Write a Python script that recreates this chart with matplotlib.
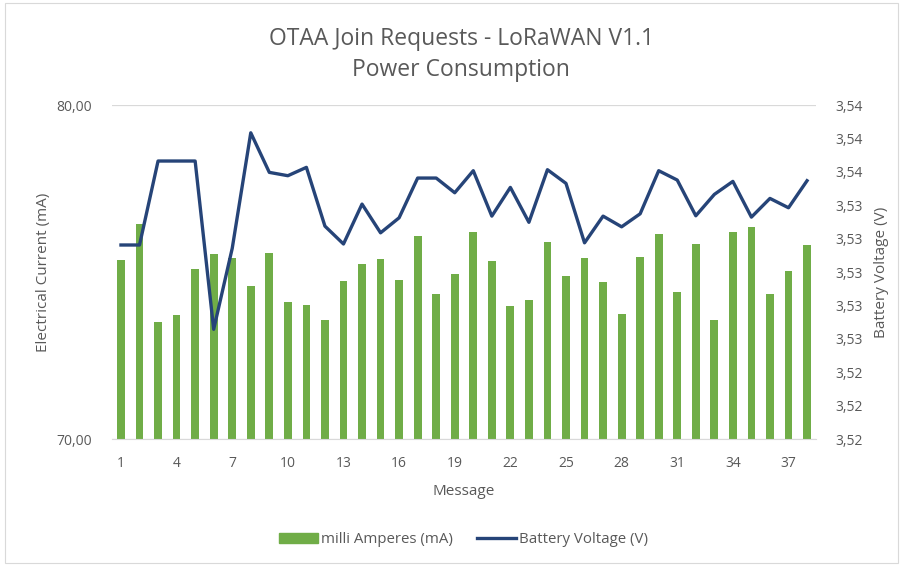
import numpy as np
import matplotlib.pyplot as plt
from matplotlib.patches import Rectangle
from matplotlib.lines import Line2D

plt.rcParams['font.family'] = ['Open Sans', 'DejaVu Sans']

messages = list(range(1, 39))
current_ma = [75.36, 76.43, 73.49, 73.70, 75.08, 75.54, 75.42, 74.57, 75.56, 74.10,
              74.00, 73.55, 74.72, 75.23, 75.39, 74.76, 76.09, 74.33, 74.95, 76.20,
              75.32, 73.98, 74.15, 75.90, 74.87, 75.41, 74.70, 73.75, 75.46, 76.14,
              74.40, 75.85, 73.55, 76.19, 76.36, 74.34, 75.04, 75.82]
voltage_v = [3.53062, 3.53062, 3.53565, 3.53565, 3.53565, 3.52557, 3.53042, 3.53734,
             3.53497, 3.53477, 3.53527, 3.53175, 3.53068, 3.53307, 3.53135, 3.53225,
             3.53463, 3.53463, 3.53375, 3.53507, 3.53235, 3.53407, 3.53198, 3.53513,
             3.53431, 3.53075, 3.53235, 3.53171, 3.53249, 3.53507, 3.53451, 3.53237,
             3.53365, 3.53443, 3.53229, 3.53341, 3.53285, 3.53447]

left_ticks = [70, 80]
left_labels = ["70,00", "80,00"]
right_ticks = [3.519, 3.521, 3.523, 3.525, 3.527, 3.529, 3.531, 3.533, 3.535, 3.537, 3.539]
right_labels = ["3,52", "3,52", "3,52", "3,53", "3,53", "3,53", "3,53", "3,53", "3,54", "3,54", "3,54"]
x_ticks = list(range(1, 39, 3))

green = "#70AD47"
blue = "#264478"
grey = "#595959"
gridc = "#D9D9D9"

fig = plt.figure(figsize=(9.03, 5.65), dpi=100)
fig.patches.append(Rectangle((0.006, 0.004), 0.988, 0.99, transform=fig.transFigure,
                             fill=False, edgecolor=gridc, linewidth=0.8))

ax = fig.add_axes([0.1237, 0.223, 0.7803, 0.591])
ax.bar(messages, current_ma, width=0.42, color=green, zorder=2)
ax.set_xlim(0.5, 38.5)
ax.set_ylim(70, 80)
ax.set_yticks(left_ticks)
ax.set_yticklabels(left_labels)
ax.set_xticks(x_ticks)
ax.grid(axis='y', color=gridc, linewidth=0.9, zorder=0)
for s in ['top', 'left', 'right']:
    ax.spines[s].set_visible(False)
ax.spines['bottom'].set_color(gridc)
ax.tick_params(axis='both', length=0, colors=grey, labelsize=10)
ax.tick_params(axis='x', pad=12.5)
ax.tick_params(axis='y', pad=14)
ax.set_xlabel("Message", color=grey, fontsize=11, labelpad=9)
ax.set_ylabel("Electrical Current (mA)", color=grey, fontsize=11, labelpad=4)

ax2 = ax.twinx()
ax2.plot(messages, voltage_v, color=blue, linewidth=2.4, solid_joinstyle='round', zorder=3)
ax2.set_ylim(3.519, 3.539)
ax2.set_yticks(right_ticks)
ax2.set_yticklabels(right_labels)
for s in ax2.spines.values():
    s.set_visible(False)
ax2.tick_params(axis='y', length=0, colors=grey, labelsize=10, pad=14)
ax2.set_ylabel("Battery Voltage (V)", color=grey, fontsize=11, labelpad=8)

fig.suptitle("OTAA Join Requests - LoRaWAN V1.1\nPower Consumption", color=grey,
             fontsize=16.5, x=0.511, y=0.952, va='top', linespacing=1.4)

handles = [Rectangle((0, 0), 1, 1, color=green), Line2D([0], [0], color=blue, linewidth=2.4)]
fig.legend(handles, ["milli Amperes (mA)", "Battery Voltage (V)"], loc='center',
           bbox_to_anchor=(0.513, 0.045), ncol=2, frameon=False, fontsize=10.8,
           labelcolor=grey, handlelength=2.6, handletextpad=0.2, columnspacing=1.6)

fig.savefig("out.png", dpi=100)
